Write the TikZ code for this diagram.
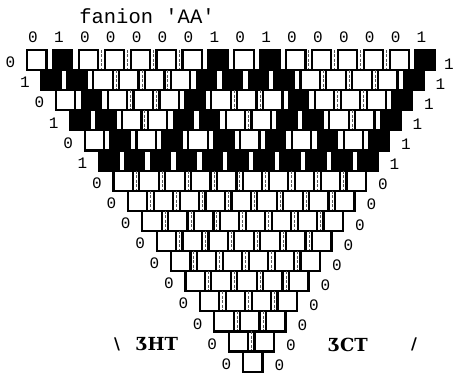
\documentclass[tikz,border=0pt]{standalone}
\usepackage{fontspec}
\usetikzlibrary{calc}
\newfontfamily\monofont{Liberation Mono}[Ligatures=TeXOff]
\newfontfamily\serifface{DejaVu Serif}
\newfontfamily\sansface{DejaVu Sans}
\begin{document}
\begin{tikzpicture}[x=1pt,y=-1pt,
  cell/.style={draw=black, line width=2.2pt, rectangle, inner sep=0pt, outer sep=0pt,
    minimum width=19.4pt, minimum height=20.1pt, anchor=north west},
  gapline/.style={line width=0.45pt, black!65, dash pattern=on 3pt off 1.5pt},
  lab/.style={font=\monofont\fontsize{16}{16}\selectfont, inner sep=0pt},
  ttl/.style={font=\monofont\fontsize{20.5}{20.5}\selectfont, inner sep=0pt},
  side/.style={font=\serifface\bfseries\fontsize{18}{18}\selectfont, inner sep=0pt},
  arr/.style={font=\sansface\bfseries\fontsize{16}{16}\selectfont, inner sep=0pt}]
\useasboundingbox (0,0) rectangle (454,374);
% title
\node[ttl] (title) at (147,16) {fanion 'AA'};
% top labels
\foreach \b [count=\n from 0] in {0,1,0,0,0,0,0,1,0,1,0,0,0,0,0,1}
  \node[lab] (t\n) at ({33+25.9*\n},37) {\b};
% rows with bits
\foreach \k/\bits in {0/{0,1,0,0,0,0,0,1,0,1,0,0,0,0,0,1},
                      1/{1,1,0,0,0,0,1,1,1,1,0,0,0,0,1},
                      2/{0,1,0,0,0,1,0,0,0,1,0,0,0,1},
                      3/{1,1,0,0,1,1,0,0,1,1,0,0,1},
                      4/{0,1,0,1,0,1,0,1,0,1,0,1},
                      5/{1,1,1,1,1,1,1,1,1,1,1}} {
  \xdef\prev{2}
  \foreach \b [count=\j from 0] in \bits {
    \ifnum\b=1 \def\fc{black}\else\def\fc{white}\fi
    \node[cell, fill=\fc] (c-\k-\j) at ({27+14.4*\k+25.9*\j},{50+20.1*\k}) {};
    \ifnum\j>0 \ifnum\b=0 \ifnum\prev=0
      \pgfmathtruncatemacro\jm{\j-1}
      \draw[gapline] ($(c-\k-\jm.north east)!0.5!(c-\k-\j.north west)$)
                  -- ($(c-\k-\jm.south east)!0.5!(c-\k-\j.south west)$);
    \fi\fi\fi
    \xdef\prev{\b}
  }
}
\foreach \k in {6,...,15} {
  \pgfmathtruncatemacro\last{15-\k}
  \foreach \j in {0,...,\last} {
    \node[cell, fill=white] (c-\k-\j) at ({27+14.4*\k+25.9*\j},{50+20.1*\k}) {};
    \ifnum\j>0
      \pgfmathtruncatemacro\jm{\j-1}
      \draw[gapline] ($(c-\k-\jm.north east)!0.5!(c-\k-\j.north west)$)
                  -- ($(c-\k-\jm.south east)!0.5!(c-\k-\j.south west)$);
    \fi
  }
}
% side labels
\foreach \k/\l/\r in {0/0/1,1/1/1,2/0/1,3/1/1,4/0/1,5/1/1,6/0/0,7/0/0,8/0/0,9/0/0,
                      10/0/0,11/0/0,12/0/0,13/0/0,14/0/0,15/0/0} {
  \node[lab] (l\k) at ({27+14.4*\k-16.5},{60+20.1*\k+2.5}) {\l};
  \node[lab] (r\k) at ({min(27+14.4*\k+25.9*(15-\k)+19.4+17,449)},{60+20.1*\k+4}) {\r};
}
% bottom side texts
\node[arr] (bs) at (117,344) {\textbackslash};
\node[side] (lhs) at (157,344) {ƷHT};
\node[side] (rhs) at (348,345) {ƷCT};
\node[arr] (fs) at (414,344) {/};
\end{tikzpicture}
\end{document}
